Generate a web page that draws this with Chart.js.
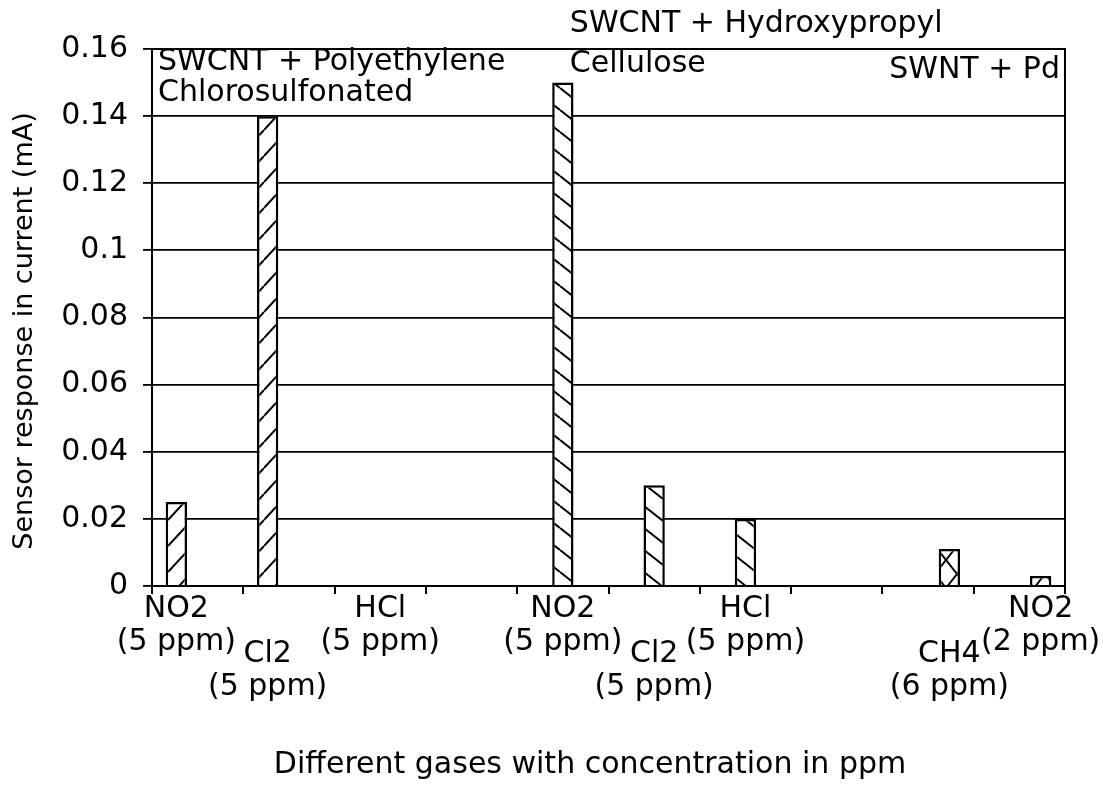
<!DOCTYPE html>
<html>
<head>
<meta charset="utf-8">
<title>Sensor response</title>
<script src="https://cdn.jsdelivr.net/npm/chart.js@4.4.1/dist/chart.umd.min.js"></script>
<style>
    html, body { margin: 0; padding: 0; background: #fff; }
    #wrap { width: 1103px; height: 794px; }
</style>
</head>
<body>
<div id="wrap"><canvas id="chart" width="1103" height="794"></canvas></div>
<script>
// Data
const gases = [
    ['NO2', '(5 ppm)'], ['Cl2', '(5 ppm)'], ['HCl', '(5 ppm)'], [],
    ['NO2', '(5 ppm)'], ['Cl2', '(5 ppm)'], ['HCl', '(5 ppm)'], [],
    ['CH4', '(6 ppm)'], ['NO2', '(2 ppm)']
];
const seriesNames = ['SWCNT + Polyethylene Chlorosulfonated', 'SWCNT + Hydroxypropyl Cellulose', 'SWNT + Pd'];
const polyethylene = [0.025, 0.14, 0, null, null, null, null, null, null, null];
const hydroxypropyl = [null, null, null, null, 0.15, 0.03, 0.02, null, null, null];
const palladium = [null, null, null, null, null, null, null, null, 0.011, 0.003];
const yTicks = [0, 0.02, 0.04, 0.06, 0.08, 0.1, 0.12, 0.14, 0.16];

const FONT = '"DejaVu Sans", "Liberation Sans", sans-serif';
Chart.defaults.font.family = FONT;
Chart.defaults.color = '#000';

// Hatch fill for the bars
function hatch(kind, w, h) {
    const c = document.createElement('canvas');
    c.width = w;
    c.height = h;
    const g = c.getContext('2d');
    g.fillStyle = '#fff';
    g.fillRect(0, 0, w, h);
    g.strokeStyle = '#000';
    g.lineWidth = 2;
    g.beginPath();
    for (let k = -1; k <= 1; k++) {
        if (kind === '/' || kind === 'x') {
            g.moveTo(0, h + k * h);
            g.lineTo(w, k * h);
        }
        if (kind === '\\' || kind === 'x') {
            g.moveTo(0, k * h);
            g.lineTo(w, h + k * h);
        }
    }
    g.stroke();
    return g.createPattern(c, 'repeat');
}

// Category labels under the axis, staggered in two rows
const gasLabels = {
    id: 'gasLabels',
    afterDraw(chart) {
        const ctx = chart.ctx;
        const xs = chart.scales.x;
        const bottom = chart.chartArea.bottom;
        const lowered = [1, 5, 8];
        ctx.save();
        ctx.font = '30px ' + FONT;
        ctx.fillStyle = '#000';
        ctx.textAlign = 'center';
        ctx.textBaseline = 'middle';
        gases.forEach((lines, i) => {
            let px = xs.getPixelForValue(i);
            chart.data.datasets.forEach((ds, d) => {
                if (ds.data[i] > 0) px = chart.getDatasetMeta(d).data[i].x;
            });
            const top = bottom + (lowered.includes(i) ? 68 : 23);
            lines.forEach((t, k) => ctx.fillText(t, px, top + k * 33));
        });
        ctx.restore();
    }
};

// Frame, in-plot notes and axis titles
const notes = {
    id: 'notes',
    afterDraw(chart) {
        const ctx = chart.ctx;
        const a = chart.chartArea;
        const xs = chart.scales.x;
        const ys = chart.scales.y;
        ctx.save();
        ctx.strokeStyle = '#000';
        ctx.lineWidth = 2;
        ctx.strokeRect(a.left, a.top, a.right - a.left, a.bottom - a.top);

        ctx.fillStyle = '#000';
        ctx.font = '30px ' + FONT;
        ctx.textBaseline = 'middle';
        ctx.textAlign = 'left';
        ctx.fillText('SWCNT + Polyethylene', a.left + 6, ys.getPixelForValue(0.1561));
        ctx.fillText('Chlorosulfonated', a.left + 6, ys.getPixelForValue(0.1469));
        const x2 = xs.getPixelForValue(4) + 7;
        ctx.fillText('SWCNT + Hydroxypropyl', x2, ys.getPixelForValue(0.1675));
        ctx.fillText('Cellulose', x2, ys.getPixelForValue(0.1555));
        ctx.textAlign = 'right';
        ctx.fillText('SWNT + Pd', a.right - 5, ys.getPixelForValue(0.1538));

        ctx.textAlign = 'center';
        ctx.fillText('Different gases with concentration in ppm', 590, 765);
        ctx.translate(25, 331);
        ctx.rotate(-Math.PI / 2);
        ctx.font = '27px ' + FONT;
        ctx.fillText('Sensor response in current (mA)', 0, 0);
        ctx.restore();
    }
};

const ctx = document.getElementById('chart').getContext('2d');
const chart = new Chart(ctx, {
    type: 'bar',
    data: {
        labels: gases.map(g => g.join(' ')),
        datasets: [
            { label: seriesNames[0], data: polyethylene, backgroundColor: hatch('/', 24, 26) },
            { label: seriesNames[1], data: hydroxypropyl, backgroundColor: hatch('\\', 28, 22) },
            { label: seriesNames[2], data: palladium, backgroundColor: hatch('x', 22, 28) }
        ].map(ds => Object.assign(ds, {
            borderColor: '#000',
            borderWidth: 2.5,
            borderSkipped: 'start',
            categoryPercentage: 0.7,
            barPercentage: 1.0
        }))
    },
    options: {
        responsive: false,
        animation: false,
        layout: { padding: { top: 49, right: 38, left: 0, bottom: 0 } },
        plugins: {
            legend: { display: false },
            tooltip: { enabled: false }
        },
        scales: {
            x: {
                offset: true,
                grid: {
                    display: true,
                    offset: true,
                    drawOnChartArea: false,
                    drawTicks: true,
                    tickLength: 8,
                    color: '#000',
                    lineWidth: 2
                },
                border: { color: '#000', width: 2 },
                ticks: { display: false },
                afterFit(s) { s.height = 208; }
            },
            y: {
                min: 0,
                max: 0.16,
                afterBuildTicks(s) { s.ticks = yTicks.map(v => ({ value: v })); },
                ticks: {
                    font: { size: 30 },
                    color: '#000',
                    padding: 15,
                    callback: v => String(v)
                },
                grid: {
                    color: '#000',
                    lineWidth: 1.8,
                    tickLength: 9
                },
                border: { color: '#000', width: 2 },
                afterFit(s) { s.width = 152; }
            }
        }
    },
    plugins: [gasLabels, notes]
});
</script>
</body>
</html>
